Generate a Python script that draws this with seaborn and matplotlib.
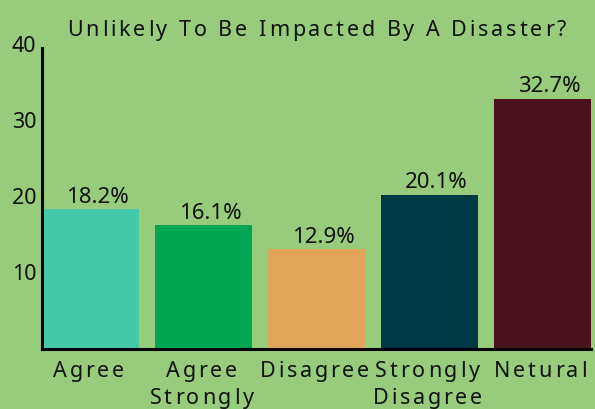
import matplotlib
matplotlib.use("Agg")
import matplotlib.pyplot as plt
import seaborn as sns
import pandas as pd
from matplotlib.font_manager import FontProperties, findfont, get_font
from matplotlib.ft2font import LOAD_NO_HINTING
from matplotlib.transforms import IdentityTransform

categories = ["Agree", "Agree\nStrongly", "Disagree", "Strongly\nDisagree", "Netural"]
percentages = [18.2, 16.1, 12.9, 20.1, 32.7]
bar_colors = ["#43c9a7", "#00a651", "#e0a55a", "#003846", "#4a121e"]
y_ticks = [10, 20, 30, 40]
title = "Unlikely To Be Impacted By A Disaster?"

bg = "#96cc7b"
ink = "#111111"
family = "Noto Sans"
DPI = 100

sns.set_theme(style="white")
plt.rcParams["font.family"] = [family, "DejaVu Sans"]

df = pd.DataFrame({"category": categories, "pct": percentages})

W, H = 595, 410
fig = plt.figure(figsize=(W / DPI, H / DPI), dpi=DPI, facecolor=bg)
# plotting area in pixels: left 42, bottom 59.6, top 44.5 (value 40)
ax = fig.add_axes([42 / W, 59.6 / H, 549 / W, (H - 44.5 - 59.6) / H])
ax.set_facecolor(bg)

sns.barplot(data=df, x="category", y="pct", hue="category", palette=bar_colors,
            legend=False, width=0.86, saturation=1, linewidth=0, ax=ax)

ax.set_xlim(-0.43, 4.43)
ax.set_ylim(-0.25, 40)
ax.set_yticks(y_ticks)
ax.set_xlabel("")
ax.set_ylabel("")
ax.set_xticklabels([])

for i, v in enumerate(percentages):
    ax.annotate(f"{v}%", (i, v), xytext=(5, 5.4), textcoords="offset points",
                ha="center", va="baseline", fontsize=16, color=ink)

for s in ["top", "right"]:
    ax.spines[s].set_visible(False)
for s in ["left", "bottom"]:
    ax.spines[s].set_color("#000000")
    ax.spines[s].set_linewidth(2.2)
ax.spines["left"].set_bounds(-0.25, 39.4)

ax.tick_params(axis="y", length=0, labelsize=15.5, labelcolor=ink, pad=4)
ax.tick_params(axis="x", length=0)


def advances(s, size):
    """Horizontal advance (pixels) of each character of s."""
    font = get_font(findfont(FontProperties(family=family)))
    font.set_size(size, DPI)
    out = []
    for c in s:
        g = font.load_char(ord(c), flags=LOAD_NO_HINTING)
        out.append(g.linearHoriAdvance / 65536)
    return out


def tracked_text(x_center, y_base, s, size, tracking):
    """Draw s centred at x_center (px) on baseline y_base (px) with extra letter spacing."""
    adv = advances(s, size)
    total = sum(adv) + tracking * (len(s) - 1)
    x = x_center - total / 2
    for c, a in zip(s, adv):
        if c != " ":
            fig.text(x, y_base, c, transform=IdentityTransform(), ha="left",
                     va="baseline", fontsize=size, color=ink, family=family)
        x += a + tracking


# title centred over the plotting area
tracked_text((42 + 591) / 2, H - 36, title, 15.5, 2.9)

# category labels, one or two lines below each bar
fig.canvas.draw()
for i, cat in enumerate(categories):
    xc = ax.transData.transform((i, 0))[0]
    for j, line in enumerate(cat.split("\n")):
        tracked_text(xc - 2, H - 377 - 27 * j, line, 15.5, 2.8)

fig.savefig("out.png", dpi=DPI, facecolor=bg)
